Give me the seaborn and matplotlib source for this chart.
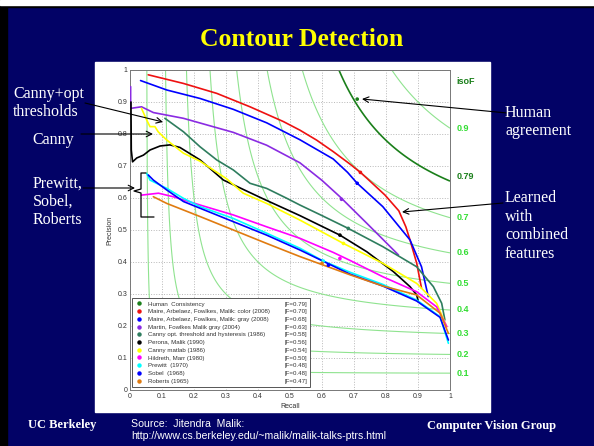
import numpy as np
import pandas as pd
import matplotlib.pyplot as plt
import seaborn as sns
from matplotlib.lines import Line2D
from matplotlib.patches import Rectangle

# Curvas precisão x recall
names = ['Human  Consistency',
         'Maire, Arbelaez, Fowlkes, Malik: color (2008)',
         'Maire, Arbelaez, Fowlkes, Malik: gray (2008)',
         'Martin, Fowlkes Malik gray (2004)',
         'Canny opt. threshold and hysteresis (1986)',
         'Perona, Malik (1990)',
         'Canny matlab (1986)',
         'Hildreth, Marr (1980)',
         'Prewitt  (1970)',
         'Sobel  (1968)',
         'Roberts (1965)']
fscores = ['[F=0.79]', '[F=0.70]', '[F=0.68]', '[F=0.63]', '[F=0.58]', '[F=0.56]',
           '[F=0.54]', '[F=0.50]', '[F=0.48]', '[F=0.48]', '[F=0.47]']
colors = ['#1a7f1a', '#ee1111', '#0000ff', '#8a2be2', '#2e7d5e', '#000000',
          '#ffff00', '#ff00ff', '#00ffff', '#0000ff', '#e07b10']

maire_color_r = [0.057, 0.167, 0.271, 0.375, 0.479, 0.531, 0.583, 0.635, 0.6875, 0.72, 0.74, 0.797, 0.84, 0.862, 0.875, 0.896, 0.911]
maire_color_p = [0.985, 0.958, 0.927, 0.885, 0.839, 0.812, 0.781, 0.745, 0.706, 0.68, 0.662, 0.609, 0.56, 0.51, 0.469, 0.396, 0.318]
maire_gray_r = [0.033, 0.115, 0.219, 0.323, 0.427, 0.531, 0.635, 0.68, 0.71, 0.79, 0.875, 0.911, 0.932]
maire_gray_p = [0.967, 0.9375, 0.911, 0.877, 0.835, 0.782, 0.722, 0.68, 0.646, 0.573, 0.469, 0.385, 0.292]
martin_r = [0.002, 0.002, 0.015, 0.036, 0.073, 0.167, 0.323, 0.427, 0.531, 0.60, 0.656, 0.74, 0.839]
martin_p = [0.948, 0.88, 0.882, 0.885, 0.867, 0.849, 0.805, 0.765, 0.71, 0.655, 0.604, 0.521, 0.422]
canny_opt_r = [0.109, 0.167, 0.219, 0.271, 0.323, 0.375, 0.427, 0.49, 0.531, 0.60, 0.682, 0.79, 0.896, 0.948, 0.974, 0.984]
canny_opt_p = [0.849, 0.807, 0.76, 0.719, 0.6875, 0.646, 0.63, 0.599, 0.578, 0.545, 0.505, 0.448, 0.385, 0.323, 0.271, 0.219]
perona_r = [0.003, 0.004, 0.008, 0.021, 0.042, 0.0625, 0.094, 0.125, 0.156, 0.219, 0.292, 0.417, 0.531, 0.656, 0.74, 0.823, 0.875, 0.896, 0.901]
perona_p = [0.90, 0.75, 0.713, 0.725, 0.734, 0.75, 0.7625, 0.766, 0.758, 0.719, 0.656, 0.597, 0.545, 0.484, 0.432, 0.37, 0.323, 0.297, 0.276]
canny_matlab_r = [0.036, 0.052, 0.0625, 0.078, 0.088, 0.115, 0.167, 0.219, 0.302, 0.354, 0.427, 0.531, 0.667, 0.79, 0.896, 0.958, 0.99]
canny_matlab_p = [0.88, 0.844, 0.823, 0.823, 0.807, 0.781, 0.74, 0.715, 0.66, 0.615, 0.583, 0.531, 0.458, 0.396, 0.333, 0.271, 0.198]
hildreth_r = [0.036, 0.089, 0.135, 0.219, 0.323, 0.427, 0.531, 0.635, 0.6875, 0.79, 0.896, 0.958, 0.99]
hildreth_p = [0.609, 0.615, 0.604, 0.578, 0.547, 0.51, 0.474, 0.43, 0.405, 0.354, 0.307, 0.26, 0.198]
prewitt_r = [0.052, 0.0625, 0.115, 0.167, 0.219, 0.323, 0.427, 0.531, 0.604, 0.6875, 0.79, 0.896, 0.969, 0.995]
prewitt_p = [0.677, 0.656, 0.63, 0.599, 0.573, 0.536, 0.49, 0.443, 0.403, 0.368, 0.33, 0.281, 0.229, 0.146]
sobel_r = [0.057, 0.073, 0.115, 0.167, 0.219, 0.323, 0.427, 0.531, 0.6875, 0.79, 0.896, 0.969, 0.995]
sobel_p = [0.672, 0.656, 0.625, 0.589, 0.568, 0.526, 0.484, 0.4375, 0.362, 0.325, 0.278, 0.227, 0.156]
roberts_r = [0.073, 0.115, 0.219, 0.323, 0.427, 0.531, 0.6875, 0.79, 0.896, 0.969, 0.995]
roberts_p = [0.604, 0.583, 0.542, 0.5, 0.458, 0.417, 0.36, 0.325, 0.297, 0.24, 0.177]

# Ponto de F máximo de cada curva
best_r = [0.71, 0.72, 0.71, 0.661, 0.682, 0.656, 0.667, 0.656, 0.604, 0.62, 0.60]
best_p = [0.909, 0.68, 0.646, 0.596, 0.505, 0.484, 0.458, 0.411, 0.403, 0.39, 0.396]

iso_levels = [0.1, 0.2, 0.3, 0.4, 0.5, 0.6, 0.7, 0.9]
human_level = [0.79]
tick_values = [0, 0.1, 0.2, 0.3, 0.4, 0.5, 0.6, 0.7, 0.8, 0.9, 1]
tick_labels = ['0', '0.1', '0.2', '0.3', '0.4', '0.5', '0.6', '0.7', '0.8', '0.9', '1']

curves = [(maire_color_r, maire_color_p), (maire_gray_r, maire_gray_p), (martin_r, martin_p),
          (canny_opt_r, canny_opt_p), (perona_r, perona_p), (canny_matlab_r, canny_matlab_p),
          (hildreth_r, hildreth_p), (prewitt_r, prewitt_p), (sobel_r, sobel_p), (roberts_r, roberts_p)]

# Monta o dataframe longo
dts = []
for name, (r, p) in zip(names[1:], curves):
    dts.append(pd.DataFrame({'Recall': r, 'Precision': p, 'Method': name}))
dt = pd.concat(dts, ignore_index=True)
best = pd.DataFrame({'Recall': best_r, 'Precision': best_p, 'Method': names})
palette = dict(zip(names, colors))

W, H = 594, 446
navy = '#020266'


def fxy(x, y):
    # pixel (a partir do canto superior esquerdo) -> fração da figura
    return (x / W, 1 - y / H)


sns.set_style('white')
plt.rcParams['font.family'] = ['Liberation Sans', 'DejaVu Sans']

fig = plt.figure(figsize=(W / 100, H / 100), dpi=100, facecolor=navy)
fig.add_artist(Rectangle(fxy(0, 446), 7 / W, 1, transform=fig.transFigure, color='black', zorder=-2))
fig.add_artist(Rectangle(fxy(0, 7), 1, 2 / H, transform=fig.transFigure, color='black', zorder=-2))
fig.add_artist(Rectangle(fxy(0, 5), 1, 5 / H, transform=fig.transFigure, color='white', zorder=-2))
fig.add_artist(Rectangle(fxy(95, 412), 395 / W, 350 / H, transform=fig.transFigure, color='white', zorder=-1))

ax = fig.add_axes([130 / W, 1 - 390 / H, 320 / W, 320 / H])

# Curvas iso-F
gr = np.linspace(0.0005, 1, 500)
RR, PP = np.meshgrid(gr, gr)
FF = 2 * RR * PP / (RR + PP)
ax.contour(RR, PP, FF, levels=iso_levels, colors='#8fe38f', linewidths=0.8, zorder=1)
ax.contour(RR, PP, FF, levels=human_level, colors='#1a7f1a', linewidths=1.2, zorder=1)

sns.lineplot(data=dt, x='Recall', y='Precision', hue='Method', palette=palette, sort=False,
             estimator=None, legend=False, linewidth=1.2, ax=ax, zorder=3)
sns.scatterplot(data=best, x='Recall', y='Precision', hue='Method', palette=palette, s=7,
                edgecolor='none', legend=False, ax=ax, zorder=4)

ax.set_xlim(0, 1)
ax.set_ylim(0, 1)
ax.set_xticks(tick_values, tick_labels)
ax.set_yticks(tick_values, tick_labels)
ax.tick_params(direction='in', length=2, width=0.5, labelsize=5, labelcolor='#333333', pad=2, color='#666666')
ax.grid(True, color='#b8b8b8', linestyle=':', linewidth=0.7)
ax.set_axisbelow(True)
for s in ax.spines.values():
    s.set_color('#777777')
    s.set_linewidth(0.7)
ax.set_xlabel('Recall', fontsize=5, color='#333333', labelpad=2)
ax.set_ylabel('Precision', fontsize=5, color='#333333', labelpad=3)

# Rótulos das curvas iso-F
for f in iso_levels:
    ax.text(1.02, f / (2 - f), f'{f:g}', color='#33dd33', fontsize=6.5, fontweight='bold',
            va='center', ha='left', clip_on=False)
for f in human_level:
    ax.text(1.02, f / (2 - f), f'{f:g}', color='#1a7f1a', fontsize=6.5, fontweight='bold',
            va='bottom', ha='left', clip_on=False)
ax.text(1.02, 0.965, 'isoF', color='#1a7f1a', fontsize=6.5, fontweight='bold',
        va='center', ha='left', transform=ax.transAxes)

# Legenda em duas colunas (nome e F)
handles = [Line2D([], [], marker='o', ms=2.2, ls='none', color=c) for c in colors]
handles += [Line2D([], [], ls='none') for _ in fscores]
leg = ax.legend(handles, names + fscores, ncol=2, loc='lower left', bbox_to_anchor=(0.006, 0.01),
                borderaxespad=0, fontsize=4.4, labelspacing=0.4, handlelength=1.2,
                handletextpad=0.9, columnspacing=0.3, fancybox=False, framealpha=1,
                edgecolor='#555555', borderpad=0.5)
leg.get_frame().set_linewidth(0.7)
leg.set_zorder(6)
for t in leg.get_texts():
    t.set_color('#333333')

# Textos do slide
fig.text(*fxy(302, 39), 'Contour Detection', color='#ffff00', fontsize=18.5, fontweight='bold',
         family='Liberation Serif', ha='center', va='center')
serif = dict(color='white', fontsize=11.5, family='Liberation Serif', ha='left', va='center',
             linespacing=1.2)
fig.text(*fxy(13, 103), 'Canny+opt\nthresholds', **serif)
fig.text(*fxy(32, 140), 'Canny', **serif)
fig.text(*fxy(33, 202), 'Prewitt,\nSobel,\nRoberts', **serif)
fig.text(*fxy(505, 122), 'Human\nagreement', **serif)
fig.text(*fxy(505, 226), 'Learned\nwith\ncombined\nfeatures', **serif)
fig.text(*fxy(28, 425), 'UC Berkeley', color='white', fontsize=9, fontweight='bold',
         family='Liberation Serif', ha='left', va='center')
fig.text(*fxy(427, 426), 'Computer Vision Group', color='white', fontsize=9, fontweight='bold',
         family='Liberation Serif', ha='left', va='center')
fig.text(*fxy(131, 430), 'Source:  Jitendra  Malik:\nhttp://www.cs.berkeley.edu/~malik/malik-talks-ptrs.html',
         color='white', fontsize=7.6, ha='left', va='center', linespacing=1.3)

# Setas
arrows = [((85, 103), (163, 122)), ((81, 134), (153, 134)), ((83, 188), (135, 188)),
          ((507, 113), (362, 99)), ((503, 203), (402, 212))]
for (x0, y0), (x1, y1) in arrows:
    ax.annotate('', xy=fxy(x1, y1), xytext=fxy(x0, y0), xycoords='figure fraction',
                textcoords='figure fraction', annotation_clip=False,
                arrowprops=dict(arrowstyle='->', color='black', lw=0.8, shrinkA=0, shrinkB=0))

# Chave
bx = [146, 141, 141, 134, 141, 141, 154]
by = [173, 173, 189, 191, 193, 217, 217]
fig.add_artist(Line2D([x / W for x in bx], [1 - y / H for y in by], transform=fig.transFigure,
                      color='black', lw=0.9))

plt.savefig('out.png', dpi=100, facecolor=navy)
plt.close()
